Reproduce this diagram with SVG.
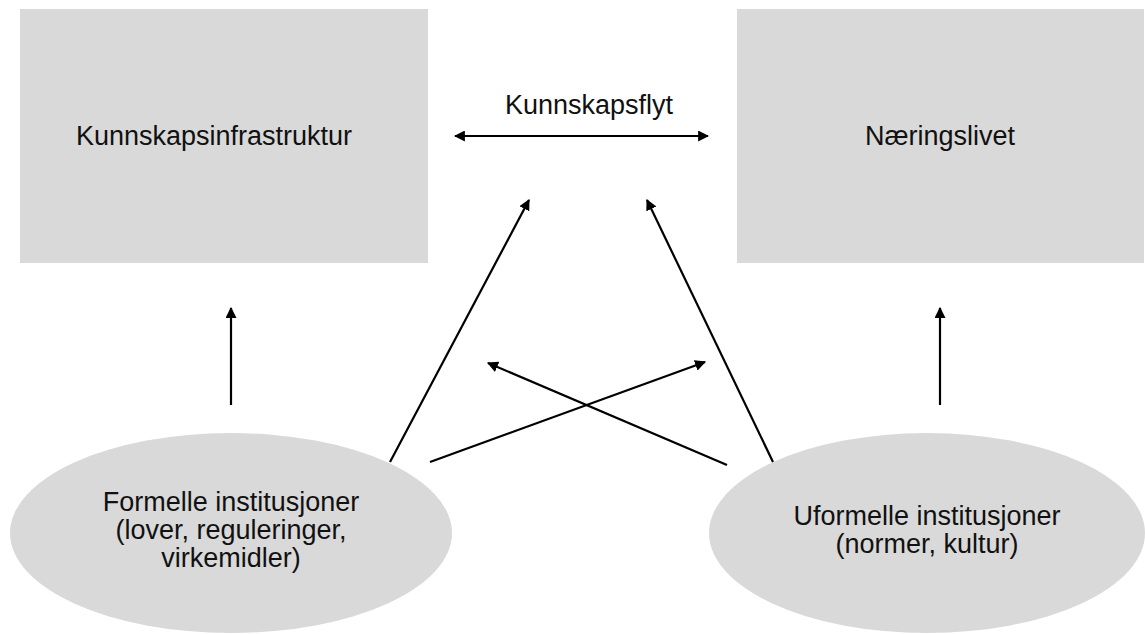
<svg xmlns="http://www.w3.org/2000/svg" width="1145" height="634" viewBox="0 0 1145 634">
<style>
.box{fill:#d9d9d9;}
.t{font-family:"Liberation Sans",Arial,sans-serif;font-size:27px;fill:#111;text-anchor:middle;dominant-baseline:central;}
.c{stroke:#000;stroke-width:2.2;fill:none;marker-end:url(#ah);}
</style>
<defs>
<marker id="ah" viewBox="0 0 10 10" refX="9" refY="5" markerWidth="5" markerHeight="5" orient="auto-start-reverse" markerUnits="strokeWidth">
<path d="M0,0 L10,5 L0,10 z" fill="#000"/>
</marker>
</defs>
<rect width="1145" height="634" fill="#fff"/>
<g id="kunnskapsinfrastruktur">
<rect class="box" x="20" y="9" width="408" height="254"/>
<text class="t" x="214" y="136">Kunnskapsinfrastruktur</text>
</g>
<g id="naeringslivet">
<rect class="box" x="737" y="9" width="407" height="254"/>
<text class="t" x="940" y="136">Næringslivet</text>
</g>
<g id="formelle">
<ellipse class="box" cx="231" cy="533" rx="221" ry="100"/>
<text class="t" x="231" y="502">Formelle institusjoner</text>
<text class="t" x="231" y="530">(lover, reguleringer,</text>
<text class="t" x="231" y="558">virkemidler)</text>
</g>
<g id="uformelle">
<ellipse class="box" cx="927" cy="533" rx="218" ry="100"/>
<text class="t" x="927" y="516">Uformelle institusjoner</text>
<text class="t" x="927" y="544">(normer, kultur)</text>
</g>
<g id="connectors">
<line class="c" x1="455" y1="136" x2="708" y2="136" style="marker-start:url(#ah)"/>
<text class="t" x="589" y="105">Kunnskapsflyt</text>
<line class="c" x1="231" y1="405" x2="231" y2="308"/>
<line class="c" x1="940" y1="405" x2="940" y2="308"/>
<line class="c" x1="390" y1="462" x2="529" y2="200"/>
<line class="c" x1="773" y1="462" x2="647" y2="200"/>
<line class="c" x1="430" y1="462" x2="705" y2="362"/>
<line class="c" x1="727" y1="465" x2="488" y2="363"/>
</g>
</svg>
